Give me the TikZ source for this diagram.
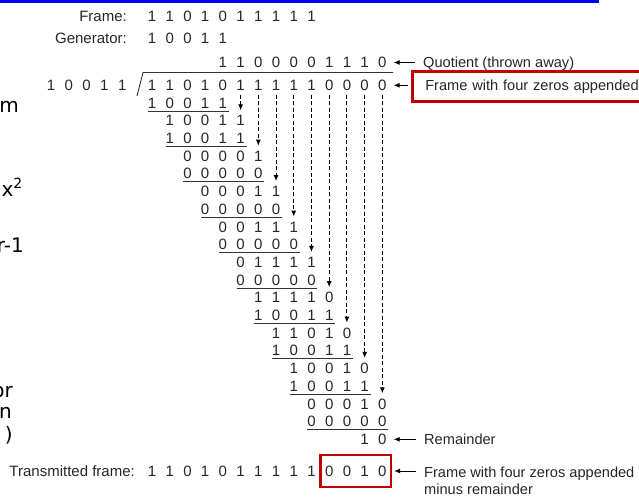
\documentclass[tikz,border=0pt]{standalone}
\usepackage{fontspec}
\setmainfont{Liberation Sans}
\newfontfamily\slidefont{DejaVu Sans}
\usepackage{xcolor}
\usepackage{tikz}
\usetikzlibrary{arrows.meta,calc,fit}
\definecolor{boxred}{RGB}{192,0,0}
\tikzset{
  bitnode/.style={inner sep=0pt, text=black!85, font=\fontsize{15}{17}\selectfont},
  lbl/.style={inner sep=0pt, text=black!85, font=\fontsize{15}{17}\selectfont},
  note/.style={inner sep=0pt, text=black!85, font=\fontsize{14.6}{17}\selectfont},
  rule/.style={draw=black!80, line width=0.9pt},
  carry/.style={-{Latex[length=6pt,width=5pt]}, dash pattern=on 4pt off 2.5pt, line width=1pt, shorten <=4pt, shorten >=5pt},
  callout/.style={-{Latex[length=6pt,width=5pt]}, line width=0.8pt},
  framebox/.style={draw=boxred, line width=2.5pt},
  slide/.style={inner sep=0pt, font=\slidefont\fontsize{20}{24}\selectfont},
}

\begin{document}
\begin{tikzpicture}[x=1pt,y=-1pt]
    \useasboundingbox (0,0) rectangle (639,497);
    \clip (0,0) rectangle (639,497);
    \fill[blue] (0,0) rectangle (599,3.3);

    % cut-off slide text on the left
    \node[slide, anchor=base east] (frag1) at (19,113) {m};
    \node[slide, anchor=base east] (frag2) at (23,196) {x\textsuperscript{2}};
    \node[slide, anchor=base east] (frag3) at (24,252) {r-1};
    \node[slide, anchor=base east] (frag4) at (13,397) {or};
    \node[slide, anchor=base east] (frag5) at (12,418) {n};
    \node[slide, anchor=base east] (frag6) at (13,441) {)};

    % frame and generator
    \node[lbl, anchor=base east] (framelbl) at (127,22) {Frame:};
    \foreach \b [count=\i from 0] in {1,1,0,1,0,1,1,1,1,1}
      \node[bitnode] (f\i) at ({152+17.72*\i},16.7) {\b};
    \node[lbl, anchor=base east] (genlbl) at (127,43.6) {Generator:};
    \foreach \b [count=\i from 0] in {1,0,0,1,1}
      \node[bitnode] (g\i) at ({152+17.72*\i},38.3) {\b};

    % quotient, divisor and dividend
    \foreach \b [count=\i from 4] in {1,1,0,0,0,0,1,1,1,0}
      \node[bitnode] (q\i) at ({152+17.72*\i},62.5) {\b};
    \foreach \b [count=\i from 0] in {1,0,0,1,1}
      \node[bitnode] (v\i) at ({51+17.8*\i},85.3) {\b};
    \foreach \b [count=\i from 0] in {1,1,0,1,0,1,1,1,1,1,0,0,0,0}
      \node[bitnode] (d\i) at ({152+17.72*\i},85.3) {\b};
    \draw[rule] (137,96) -- (143,72.5) -- (393,72.5);

    % Long division steps, every second row underlined
    \foreach \r/\s/\ba/\bb/\bc/\bd/\be in {1/0/1/0/0/1/1, 2/1/1/0/0/1/1, 3/1/1/0/0/1/1,
        4/2/0/0/0/0/1, 5/2/0/0/0/0/0, 6/3/0/0/0/1/1, 7/3/0/0/0/0/0,
        8/4/0/0/1/1/1, 9/4/0/0/0/0/0, 10/5/0/1/1/1/1, 11/5/0/0/0/0/0,
        12/6/1/1/1/1/0, 13/6/1/0/0/1/1, 14/7/1/1/0/1/0, 15/7/1/0/0/1/1,
        16/8/1/0/0/1/0, 17/8/1/0/0/1/1, 18/9/0/0/0/1/0, 19/9/0/0/0/0/0} {
      \foreach \b [count=\i from 0] in {\ba,\bb,\bc,\bd,\be} {
        \pgfmathtruncatemacro\c{\s+\i}
        \node[bitnode] (r\r-\c) at ({152+17.72*\c},{85.3+17.7*\r}) {\b};
      }
      \ifodd\r
        \pgfmathtruncatemacro\e{\s+4}
        \draw[rule] ($(r\r-\s.center)+(-4,8)$) -- ($(r\r-\e.center)+(6,8)$);
      \fi
    }
    \node[bitnode] (r20-12) at ({152+17.72*12},{85.3+17.7*20}) {1};
    \node[bitnode] (r20-13) at ({152+17.72*13},{85.3+17.7*20}) {0};

    % bits brought down
    \foreach \k in {5,...,13} {
      \pgfmathtruncatemacro\t{2*(\k-4)}
      \draw[carry] (d\k) -- (r\t-\k);
    }

    % transmitted frame
    \node[lbl, anchor=base east] (sentlbl) at (135,476.5) {Transmitted frame:};
    \foreach \b [count=\i from 0] in {1,1,0,1,0,1,1,1,1,1,0,0,1,0}
      \node[bitnode] (t\i) at ({152+17.72*\i},471) {\b};
    \node[framebox, fit=(t10)(t13), inner xsep=4.5pt, inner ysep=10.5pt] (sentbox) {};

    % notes on the right
    \node[note, anchor=base west] (quotlbl) at (423,67.5) {Quotient (thrown away)};
    \draw[callout, shorten <=8pt, shorten >=7pt] (q13.east -| quotlbl.west) -- (q13.east);
    \node[note, framebox, anchor=west, inner xsep=13pt, minimum height=30pt, text width=235pt,
      align=left, text height=10.5pt, text depth=3pt] (apndbox) at (411,86.7) {Frame with four zeros appended};
    \draw[callout, shorten <=3pt, shorten >=7pt] (d13.east -| apndbox.west) -- (d13.east);
    \node[note, anchor=base west] (remlbl) at (424,444.5) {Remainder};
    \draw[callout, shorten <=8pt, shorten >=7pt] (r20-13.east -| remlbl.west) -- (r20-13.east);
    \node[note, anchor=base west] (apndlbl) at (424,477) {Frame with four zeros appended};
    \node[note, anchor=base west] (minuslbl) at (424,494) {minus remainder};
    \draw[callout, shorten <=8pt, shorten >=7.5pt] (t13.east -| apndlbl.west) -- (t13.east);
\end{tikzpicture}
\end{document}
